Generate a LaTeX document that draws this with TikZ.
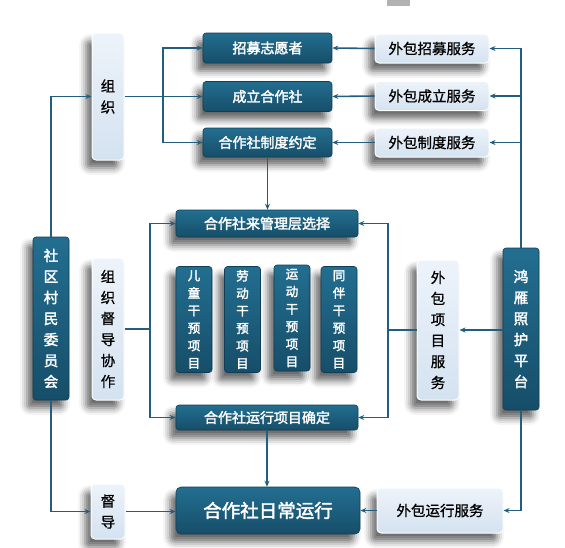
\documentclass[tikz,border=0pt]{standalone}
\usepackage{fontspec}
\setmainfont{Noto Sans CJK SC}
\newfontfamily\cjkbold{Noto Sans CJK SC}[FakeBold=2.2]
\newfontfamily\cjkmed{Noto Sans CJK SC}[FakeBold=0.8]
\usetikzlibrary{arrows.meta,shadows.blur}
\definecolor{linec}{HTML}{245E7E}
\definecolor{darktop}{HTML}{236E90}
\definecolor{darkbot}{HTML}{164E69}
\definecolor{darkedge}{HTML}{0F3F58}
\definecolor{lighttop}{HTML}{EDF3FA}
\definecolor{lightbot}{HTML}{D4E2F0}
\tikzset{
  shad/.style={blur shadow={shadow xshift=-6pt,shadow yshift=-8pt,shadow blur radius=7pt,shadow opacity=60}},
  darkbox/.style={shad,rounded corners=3pt,top color=darktop,bottom color=darkbot,draw=darkedge,line width=0.6pt,text=white,inner sep=0pt,align=center,font=\cjkbold\fontsize{14}{18}\selectfont},
  lightbox/.style={shad,rounded corners=4pt,top color=lighttop,bottom color=lightbot,draw=white,line width=1pt,text=black,inner sep=0pt,align=center,font=\cjkmed\fontsize{14.5}{18}\selectfont},
  darkv/.style={darkbox,font=\cjkbold\fontsize{14.5}{21}\selectfont},
  lightv/.style={lightbox,font=\cjkmed\fontsize{14.5}{21}\selectfont},
  projv/.style={darkbox,font=\cjkbold\fontsize{12.5}{17.5}\selectfont,minimum width=36pt,minimum height=106pt},
  conn/.style={draw=linec,line width=1.6pt},
  arr/.style={conn,-{Stealth[length=6pt,width=5pt]}},
}
\begin{document}
\begin{tikzpicture}[x=1pt,y=-1pt]
\useasboundingbox (0,0) rectangle (565,547);
\fill[gray!60] (387,0) rectangle (410,6);
% top-left column
\node[lightv,minimum width=32pt,minimum height=127pt] (zz) at (108,96.5) {组\\织};
\node[darkbox,minimum width=129pt,minimum height=30pt] (zm) at (267.5,48) {招募志愿者};
\node[darkbox,minimum width=129pt,minimum height=30pt] (cl) at (267.5,96.5) {成立合作社};
\node[darkbox,minimum width=129pt,minimum height=29pt] (zd) at (267.5,142.5) {合作社制度约定};
\node[lightbox,minimum width=114pt,minimum height=29pt] (wz) at (432,48.5) {外包招募服务};
\node[lightbox,minimum width=114pt,minimum height=29pt] (wc) at (432,96) {外包成立服务};
\node[lightbox,minimum width=114pt,minimum height=29pt] (wd) at (432,142.5) {外包制度服务};
% middle
\node[darkbox,minimum width=182pt,minimum height=27pt] (gl) at (267,223.5) {合作社来管理层选择};
\node[darkv,minimum width=36pt,minimum height=163pt] (sq) at (51,318.5) {社\\区\\村\\民\\委\\员\\会};
\node[lightv,minimum width=32pt,minimum height=142pt] (dx) at (108,329) {组\\织\\督\\导\\协\\作};
\node[projv] (p1) at (194,319.5) {儿\\童\\干\\预\\项\\目};
\node[projv] (p2) at (242.5,319.5) {劳\\动\\干\\预\\项\\目};
\node[projv] (p3) at (292,318) {运\\动\\干\\预\\项\\目};
\node[projv] (p4) at (339,319.5) {同\\伴\\干\\预\\项\\目};
\node[lightv,minimum width=42pt,minimum height=140pt] (wx) at (438,330) {外\\包\\项\\目\\服\\务};
\node[darkv,minimum width=36pt,minimum height=162pt] (hy) at (521,329) {鸿\\雁\\照\\护\\平\\台};
\node[darkbox,minimum width=182pt,minimum height=25pt] (yq) at (267,417.5) {合作社运行项目确定};
% bottom
\node[darkbox,minimum width=184pt,minimum height=47pt,font=\cjkbold\fontsize{18.5}{22}\selectfont,rounded corners=5pt] (rc) at (268,510.5) {合作社日常运行};
\node[lightv,minimum width=34pt,minimum height=55pt] (dd) at (108,511.5) {督\\导};
\node[lightbox,minimum width=126pt,minimum height=45pt] (wy) at (440,510.5) {外包运行服务};
% connectors
\coordinate (b1) at (163,96.5);
\coordinate (b2) at (hy.north |- wc.east);
\coordinate (b3) at (150,329);
\coordinate (b4) at (388,330);
\draw[arr] (sq.north) |- (zz.west);
\draw[arr] (zz.east) -- (cl.west);
\draw[arr] (b1) |- (zm.west);
\draw[arr] (b1) |- (zd.west);
\draw[arr] (wz.west) -- (zm.east);
\draw[arr] (wc.west) -- (cl.east);
\draw[arr] (wd.west) -- (zd.east);
\draw[arr] (hy.north) |- (wz.east);
\draw[arr] (b2) -- (wc.east);
\draw[arr] (b2 |- wd.east) -- (wd.east);
\draw[arr] (zd.south) -- (zd.south |- gl.north);
\draw[conn] (dx.east) -- (b3);
\draw[arr] (b3) |- (gl.west);
\draw[arr] (b3) |- (yq.west);
\draw[arr] (hy.west |- wx.east) -- (wx.east);
\draw[conn] (wx.west) -- (b4);
\draw[arr] (b4) |- (gl.east);
\draw[arr] (b4) |- (yq.east);
\draw[arr] (yq.south) -- (yq.south |- rc.north);
\draw[arr] (sq.south) |- (dd.west);
\draw[arr] (dd.east) -- (dd.east -| rc.west);
\draw[arr] (wy.west) -- (wy.west -| rc.east);
\draw[arr] (hy.south) |- (wy.east);
\end{tikzpicture}
\end{document}
